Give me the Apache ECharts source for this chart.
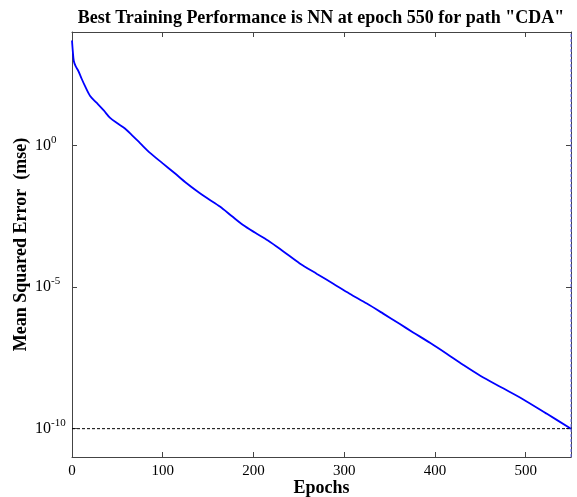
<!DOCTYPE html>
<html>
<head>
<meta charset="utf-8">
<script src="https://cdn.jsdelivr.net/npm/echarts@6/dist/echarts.min.js"></script>
<style>
    html, body { margin: 0; padding: 0; background: #fff; }
    #chart { width: 577px; height: 497px; }
</style>
</head>
<body>
<div id="chart"></div>
<script>
// training curve
const epochs = [0, 1, 2, 4, 7, 10, 14, 20, 27, 35, 42, 50, 58, 66, 75, 86, 100, 113, 126, 138, 150, 163, 176, 189, 202, 216, 233, 251, 270, 288, 306, 325, 343, 361, 376, 395, 413, 431, 450, 473, 497, 523, 550]
const mse = [5000, 1900, 950, 620, 420, 250, 130, 55, 32, 17, 9.3, 6.0, 4.0, 2.3, 1.2, 0.54, 0.23, 0.105, 0.047, 0.024, 0.013, 6.9e-3, 3.2e-3, 1.5e-3, 8.2e-4, 4.4e-4, 1.8e-4, 6.8e-5, 2.9e-5, 1.3e-5, 5.8e-6, 2.6e-6, 1.15e-6, 5.0e-7, 2.5e-7, 1.05e-7, 4.4e-8, 1.8e-8, 7.4e-9, 2.9e-9, 1.1e-9, 3.4e-10, 1.0e-10]
const goal = 1e-10
const bestEpoch = 550

const xTicks = [0, 100, 200, 300, 400, 500]
const yTicks = [1, 1e-5, 1e-10]
const yMin = 1e-11
const yMax = 1e4

const serif = '"Liberation Serif", "Times New Roman", serif'
const axisColor = '#444'

const chart = echarts.init(document.getElementById('chart'))

function expLabel(v) {
    const e = Math.round(Math.log10(v))
    return '{b|10}{s|' + e + '}'
}

const xAxisBase = {
    type: 'value',
    min: 0,
    max: 550,
    splitLine: { show: false },
    axisLine: { onZero: false, lineStyle: { color: axisColor, width: 1 } },
    axisTick: { inside: true, length: 5, customValues: xTicks, lineStyle: { color: axisColor } }
}

const yAxisBase = {
    type: 'log',
    logBase: 10,
    min: yMin,
    max: yMax,
    splitLine: { show: false },
    minorTick: { show: false },
    axisLine: { show: true, onZero: false, lineStyle: { color: axisColor, width: 1 } },
    axisTick: { inside: true, length: 5, customValues: yTicks, lineStyle: { color: axisColor } }
}

const option = {
    animation: false,
    backgroundColor: '#fff',
    title: {
        text: 'Best Training Performance is NN at epoch 550 for path "CDA"',
        left: 316,
        textAlign: 'center',
        top: 4,
        textStyle: { fontFamily: serif, fontSize: 18, fontWeight: 'bold', color: '#000' }
    },
    grid: { left: 72, right: 6, top: 32, bottom: 40, outerBoundsMode: 'none', containLabel: false },
    xAxis: [
        Object.assign({}, xAxisBase, {
            position: 'bottom',
            name: 'Epochs',
            nameLocation: 'middle',
            nameGap: 22,
            nameMoveOverlap: false,
            nameTextStyle: { fontFamily: serif, fontSize: 18, fontWeight: 'bold', color: '#000' },
            axisLabel: { customValues: xTicks, margin: 7, fontFamily: serif, fontSize: 15, color: '#000' }
        }),
        Object.assign({}, xAxisBase, {
            position: 'top',
            axisLabel: { show: false }
        })
    ],
    yAxis: [
        Object.assign({}, yAxisBase, {
            position: 'left',
            name: 'Mean Squared Error  (mse)',
            nameLocation: 'middle',
            nameGap: 42,
            nameMoveOverlap: false,
            nameTextStyle: { fontFamily: serif, fontSize: 18, fontWeight: 'bold', color: '#000' },
            axisLabel: {
                customValues: yTicks,
                margin: 37,
                align: 'left',
                formatter: expLabel,
                rich: {
                    b: { fontFamily: serif, fontSize: 16, color: '#000' },
                    s: { fontFamily: serif, fontSize: 11, color: '#000', padding: [0, 0, 11, 0] }
                }
            }
        }),
        Object.assign({}, yAxisBase, {
            position: 'right',
            axisLabel: { show: false }
        })
    ],
    series: [
        {
            name: 'Goal',
            type: 'line',
            symbol: 'none',
            silent: true,
            lineStyle: { color: '#000', width: 1, type: [3, 2] },
            data: [[0, goal], [bestEpoch, goal]]
        },
        {
            name: 'Best',
            type: 'line',
            symbol: 'none',
            silent: true,
            lineStyle: { color: '#6b6bff', width: 1, type: [3, 2] },
            data: [[bestEpoch, yMin], [bestEpoch, yMax]]
        },
        {
            name: 'Train',
            type: 'line',
            symbol: 'none',
            smooth: 0.3,
            lineStyle: { color: '#0000ff', width: 1.8 },
            data: epochs.map((e, i) => [e, mse[i]])
        }
    ]
}

chart.setOption(option)
</script>
</body>
</html>
